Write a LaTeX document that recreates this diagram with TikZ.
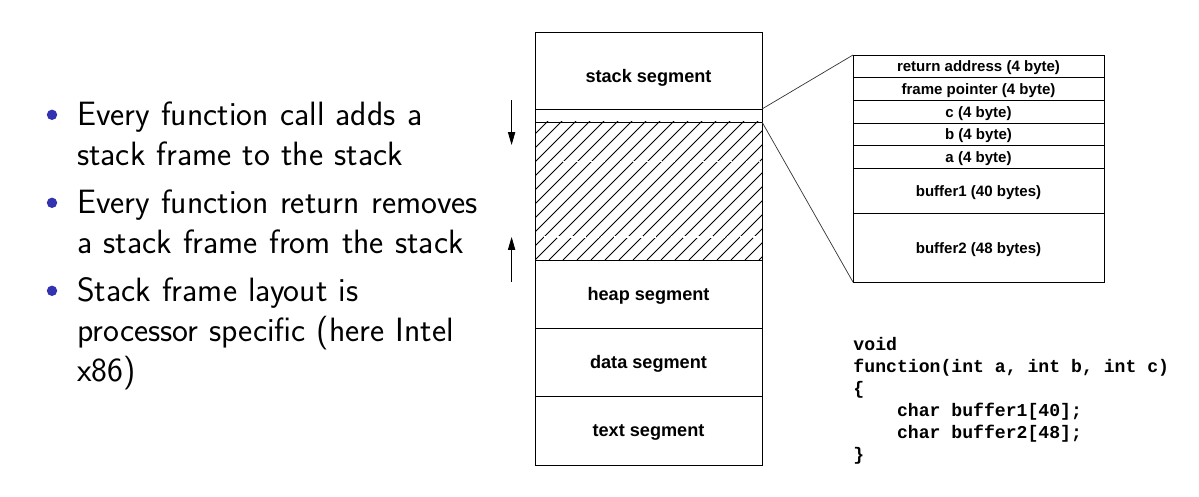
\documentclass[tikz,border=0pt]{standalone}
\usepackage{fontspec}
\usepackage{tikz}
\usepackage{xcolor}
\usetikzlibrary{positioning,arrows.meta,calc}
\newfontfamily\labelfont{Liberation Sans}
\newfontfamily\codefont{Liberation Mono}
\newcommand{\codesp}{\hphantom{0}}
\definecolor{bulletblue}{RGB}{51,51,178}

\begin{document}
\begin{tikzpicture}[
    seg/.style={draw, line width=0.6pt, minimum width=5.675cm, inner sep=0pt, outer sep=0pt,
        text depth=0pt, font=\labelfont\bfseries\fontsize{12.9}{15}\selectfont},
    row/.style={draw, line width=0.6pt, minimum width=6.275cm, minimum height=0.5675cm,
        inner sep=0pt, outer sep=0pt, text depth=0pt,
        font=\labelfont\bfseries\fontsize{10.7}{12}\selectfont},
    item/.style={anchor=base west, inner sep=0pt, text width=12cm, align=left,
        font=\sffamily\fontsize{24}{28.4}\selectfont},
    bullet/.style={circle, fill=bulletblue, minimum size=0.26cm, inner sep=0pt},
    hatch/.style={line width=0.55pt},
    zoomline/.style={line width=0.5pt, black!80}
]
    \useasboundingbox (0,0) rectangle (29.975,-12.425);

    % Bullet points
    \node[bullet] (bul1) at (1.3,-2.87) {};
    \node[item] (item1) at (1.92,-3.1375) {Every function call adds a\\stack frame to the stack};
    \node[bullet] (bul2) at (1.3,-5.07) {};
    \node[item] (item2) at (1.92,-5.3375) {Every function return removes\\a stack frame from the stack};
    \node[bullet] (bul3) at (1.3,-7.27) {};
    \node[item] (item3) at (1.92,-7.5375) {Stack frame layout is\\processor specific (here Intel\\x86)};

    % Memory segments
    \node[seg, anchor=north west, minimum height=1.925cm, text height=17pt] (stackseg) at (13.375,-0.8) {stack segment};
    \node[seg, minimum height=0.325cm, below=0pt of stackseg] (frameseg) {};
    \node[seg, minimum height=3.45cm, below=0pt of frameseg] (freeseg) {};
    \node[seg, minimum height=1.7cm, below=0pt of freeseg] (heapseg) {heap segment};
    \node[seg, minimum height=1.7cm, below=0pt of heapseg] (dataseg) {data segment};
    \node[seg, minimum height=1.725cm, below=0pt of dataseg] (textseg) {text segment};

    % Hatch the free space
    \begin{scope}
        \clip (freeseg.south west) rectangle (freeseg.north east);
        \foreach \i in {0,...,27}
            \draw[hatch] ($(freeseg.south west)+(\i*0.35cm-3.5cm,0)$) -- ++(3.5cm,3.5cm);
    \end{scope}
    \draw[line width=0.6pt] (freeseg.south west) rectangle (freeseg.north east);
    \draw[white, line width=1.2pt, dash pattern=on 3pt off 1.5pt] (13.6,-4.04) -- (19.0,-4.04);
    \draw[white, line width=1.2pt, dash pattern=on 3pt off 1.5pt] (13.6,-5.92) -- (19.0,-5.92);

    % Growth arrows
    \coordinate (downstart) at (12.79,-2.5);
    \coordinate (downend) at (12.79,-3.625);
    \coordinate (upstart) at (12.79,-7.05);
    \coordinate (upend) at (12.79,-5.925);
    \draw[-{Triangle[length=3.2mm,width=1.8mm]}, line width=0.5pt] (downstart) -- (downend);
    \draw[-{Triangle[length=3.2mm,width=1.8mm]}, line width=0.5pt] (upstart) -- (upend);

    % Stack frame layout
    \node[row, anchor=north west] (ret) at (21.325,-1.375) {return address (4 byte)};
    \node[row, below=0pt of ret] (fp) {frame pointer (4 byte)};
    \node[row, below=0pt of fp] (argc) {c (4 byte)};
    \node[row, below=0pt of argc] (argb) {b (4 byte)};
    \node[row, below=0pt of argb] (arga) {a (4 byte)};
    \node[row, minimum height=1.1325cm, below=0pt of arga] (buf1) {buffer1 (40 bytes)};
    \node[row, minimum height=1.7075cm, below=0pt of buf1] (buf2) {buffer2 (48 bytes)};

    % Zoom lines
    \draw[zoomline] (frameseg.north east) -- (ret.north west);
    \draw[zoomline] (frameseg.south east) -- (buf2.south west);

    % Source code
    \node[anchor=base west, inner sep=0pt, text width=9cm, align=left,
        font=\codefont\bfseries\fontsize{12.9}{15.6}\selectfont] (code) at (21.33,-8.775)
        {void\\function(int\codesp a,\codesp int\codesp b,\codesp int\codesp c)\\\{\\%
        \codesp\codesp\codesp\codesp char\codesp buffer1[40];\\%
        \codesp\codesp\codesp\codesp char\codesp buffer2[48];\\\}};
\end{tikzpicture}
\end{document}
